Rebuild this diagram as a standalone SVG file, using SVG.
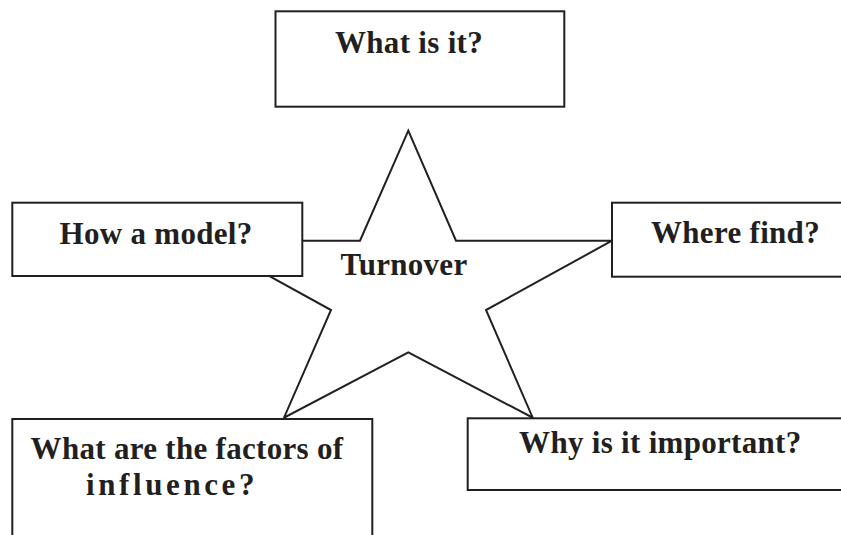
<svg xmlns="http://www.w3.org/2000/svg" width="841" height="535" viewBox="0 0 841 535">
<style>
.box{fill:#fff;stroke:#231f20;stroke-width:2}
.star{fill:#fff;stroke:#231f20;stroke-width:2;stroke-linejoin:miter}
.t{font-family:"Liberation Serif","Times New Roman",serif;font-weight:bold;font-size:31px;fill:#231f20;text-anchor:middle;letter-spacing:0.3px}
</style>
<rect width="841" height="535" fill="#fff"/>
<g id="turnover">
<polygon class="star" points="408.3,130.7 456,240.7 612,240.7 486,310 532.7,417.7 408.3,352.3 284,417.7 331,310 205,240.7 360,240.7"/>
<text class="t" x="404" y="275">Turnover</text>
</g>
<g id="what-is-it">
<rect class="box" x="275.5" y="11.3" width="288.8" height="95.4"/>
<text class="t" x="409" y="53">What is it?</text>
</g>
<g id="how-a-model">
<rect class="box" x="12.3" y="202.7" width="290" height="73.3"/>
<text class="t" x="156" y="244">How a model?</text>
</g>
<g id="where-find">
<rect class="box" x="612" y="202.7" width="240" height="74"/>
<text class="t" x="735.5" y="243">Where find?</text>
</g>
<g id="factors">
<rect class="box" x="12.3" y="419" width="360" height="130"/>
<text class="t" x="187" y="459">What are the factors of</text>
<text class="t" x="86" y="495" style="text-anchor:start;letter-spacing:3.6px">influence?</text>
</g>
<g id="why-important">
<rect class="box" x="467.7" y="418.3" width="390" height="71.7"/>
<text class="t" x="660.3" y="453">Why is it important?</text>
</g>
</svg>
